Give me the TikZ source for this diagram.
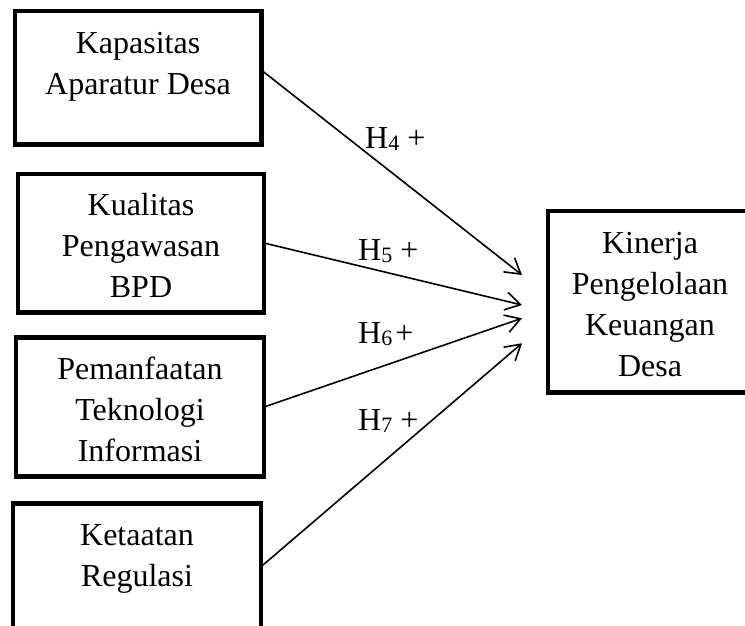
\documentclass[tikz,border=0pt]{standalone}
\usepackage{fontspec}
\setmainfont{Liberation Serif}
\usetikzlibrary{arrows.meta}
\newcommand{\hsub}[1]{\raisebox{-2pt}{\fontsize{22}{22}\selectfont #1}}

\begin{document}
\begin{tikzpicture}[x=1pt,y=-1pt,
    font=\fontsize{32}{41}\selectfont,
    varbox/.style={draw, line width=4.5pt, outer sep=0pt, inner sep=0pt},
    vartext/.style={anchor=north, label distance=-13.3pt, align=center,
        inner sep=0pt},
    hyparrow/.style={-{Straight Barb[length=15pt,width=18pt]}, line width=1.6pt},
    hyplabel/.style={anchor=base west, inner sep=0pt}]
    \useasboundingbox (0,0) rectangle (745,625);
    \clip (0,0) rectangle (745,625);

    % independent variables
    \node[varbox, minimum width=246.5pt, minimum height=133.5pt,
        label={[vartext]north:{\strut Kapasitas\\Aparatur Desa}}] (kap) at (138,77.7) {};
    \node[varbox, minimum width=246pt, minimum height=138.5pt,
        label={[vartext]north:{\strut Kualitas\\Pengawasan\\BPD}}] (kual) at (141,243) {};
    \node[varbox, minimum width=248pt, minimum height=139pt,
        label={[vartext]north:{\strut Pemanfaatan\\Teknologi\\Informasi}}] (pem) at (140,407) {};
    \node[varbox, minimum width=248pt, minimum height=126.5pt,
        label={[vartext]north:{\strut Ketaatan\\Regulasi}}] (ket) at (137,566.75) {};

    % dependent variable
    \node[varbox, minimum width=204pt, minimum height=181.5pt,
        label={[vartext]north:{\strut Kinerja\\Pengelolaan\\Keuangan\\Desa}}] (kin) at (650,301.75) {};

    \coordinate (t4) at ([xshift=-26pt,yshift=26.75pt]kin.west);
    \coordinate (t5) at ([xshift=-26pt,yshift=-3.25pt]kin.west);
    \coordinate (t6) at ([xshift=-26pt,yshift=-16.5pt]kin.west);
    \coordinate (t7) at ([xshift=-26pt,yshift=-41.5pt]kin.west);

    \draw[hyparrow] ([yshift=7.7pt]kap.east) -- (t4);
    \draw[hyparrow] (kual.east) -- (t5);
    \draw[hyparrow] (pem.east) -- (t6);
    \draw[hyparrow] (ket.east) -- (t7);

    % hypotheses
    \node[hyplabel] (h4) at (365,148) {H\hsub{4} +};
    \node[hyplabel] (h5) at (358,260) {H\hsub{5} +};
    \node[hyplabel] (h6) at (358,343) {H\hsub{6}\hspace{3pt}+};
    \node[hyplabel] (h7) at (358,430) {H\hsub{7} +};
\end{tikzpicture}
\end{document}
